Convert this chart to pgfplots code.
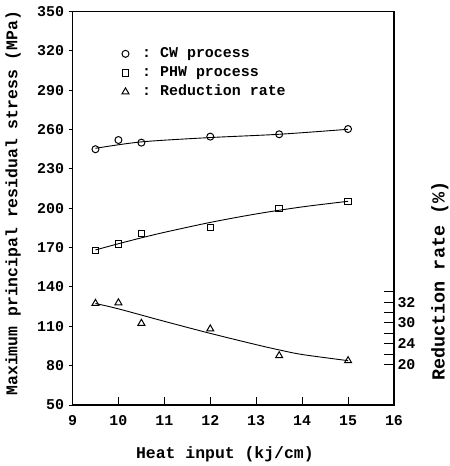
\documentclass[border=0pt]{standalone}
\usepackage{pgfplots}
\pgfplotsset{compat=1.18}
\usepackage{fontspec}
\setmonofont{Liberation Mono}
\newcommand{\tf}[1]{\ttfamily\bfseries\fontsize{#1}{#1}\selectfont}
\begin{document}
\begin{tikzpicture}
\path[use as bounding box] (-72.5bp,-61bp) rectangle (377.5bp,405bp);
\pgfplotsset{base/.style={scale only axis, width=321.5bp, height=393.5bp,
  xmin=9, xmax=16, ymin=50, ymax=350, at={(0,0)}, anchor=south west,
  /pgf/number format/assume math mode=true,
  tick label style={font=\tf{15}},
  axis line style={line width=1.1bp, black},
  tick style={line width=0.9bp, black}}}
% right axis (reduction rate)
\begin{axis}[base, axis x line=none, axis y line*=right,
  ytick={136.2,128.4,120.5,112.6,104.7,96.8,88.9,81.0},
  yticklabels={,32,,30,,24,,20},
  tick align=inside, major tick length=10bp]
\end{axis}
% left axis ticks
\begin{axis}[base, axis x line=none, axis y line*=left,
  ytick={50,80,...,350}, tick align=outside, major tick length=4bp,
  yticklabel style={xshift=-1bp}]
\end{axis}
% main axis
\begin{axis}[base, clip=false, xtick={9,...,16}, ytick=\empty, xtick pos=bottom,
  tick align=inside, major tick length=8bp, xticklabel style={yshift=-7bp},
  legend cell align=left,
  legend style={draw=none, fill=none, at={(axis cs:9.95,325.5)}, anchor=north west,
    font=\tf{15}, row sep=3bp,
    nodes={inner sep=1.5bp, text height=10bp, text depth=3bp}},
  legend image code/.code={\path (0cm,0cm) (0.72cm,0cm);\draw[#1] plot coordinates {(0.2cm,0cm)};}
  ]
\addlegendimage{only marks, mark=o, mark size=3.5bp, line width=1bp}
\addlegendentry{: CW process}
\addlegendimage{only marks, mark=square, mark size=3.2bp, line width=1bp}
\addlegendentry{: PHW process}
\addlegendimage{only marks, mark=triangle, mark size=4bp, line width=1bp}
\addlegendentry{: Reduction rate}

\addplot[smooth, line width=0.9bp, forget plot] coordinates {(9.5,245.7)(10.5,250.6)(12,253.9)(13.5,256.4)(15,260.2)};
\addplot[only marks, mark=o, mark size=3.5bp, line width=1bp, forget plot] coordinates {(9.5,245)(10,252)(10.5,250)(12,254.6)(13.5,256.4)(15,260.4)};

\addplot[smooth, line width=0.9bp, forget plot] coordinates {(9.5,168.2)(10,172.95)(10.5,177.43)(11,181.63)(12,189.2)(13,195.67)(14,201.03)(15,205.3)};
\addplot[only marks, mark=square, mark size=3.2bp, line width=1bp, forget plot] coordinates {(9.5,167.6)(10,172.7)(10.5,180.9)(12,185.5)(13.5,200)(15,205.3)};

\addplot[smooth, line width=0.9bp, forget plot] coordinates {(9.5,127.4)(10,123.3)(11,113.8)(12,104.6)(13,96)(13.5,92)(14,88.5)(15,83.8)};
\addplot[only marks, mark=triangle, mark size=4bp, line width=1bp, forget plot] coordinates {(9.5,127.5)(10,127.9)(10.5,112.3)(12,108)(13.5,87.6)(15,83.8)};

\node[rotate=90, font=\tf{16.5}] at (axis description cs:-0.185,0.513) {Maximum principal residual stress (MPa)};
\node[font=\tf{16.5}] at (axis description cs:0.474,-0.1245) {Heat input (kj/cm)};
\node[rotate=90, font=\tf{18.5}] at (axis description cs:1.143,0.315) {Reduction rate (\%)};
\end{axis}
\end{tikzpicture}
\end{document}
